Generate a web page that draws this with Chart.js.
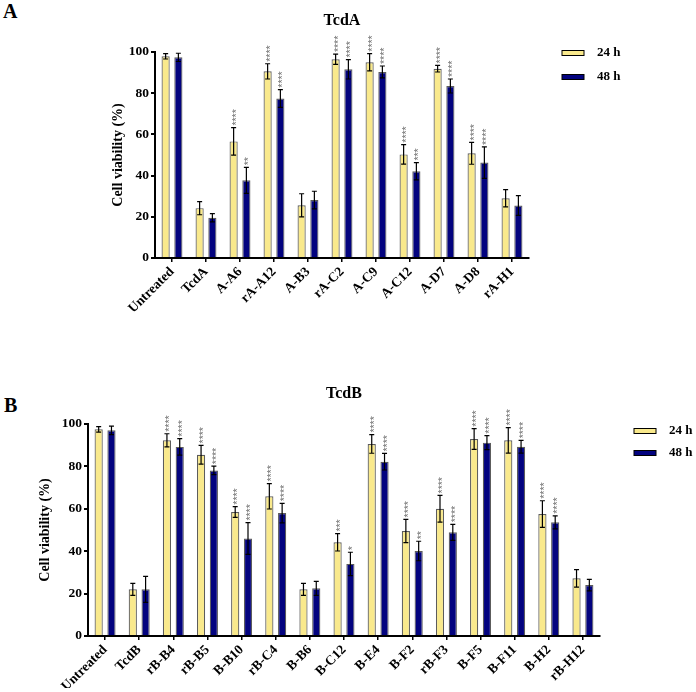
<!DOCTYPE html>
<html>
<head>
<meta charset="utf-8">
<script src="https://cdn.jsdelivr.net/npm/chart.js@4.4.0/dist/chart.umd.min.js"></script>
<style>
  body { margin: 0; background: #fff; }
  #page { position: relative; width: 696px; height: 692px; overflow: hidden; }
  .panel { position: absolute; font: bold 20px "Liberation Serif", serif; color: #000; }
  canvas { position: absolute; left: 0; }
</style>
</head>
<body>
<div id="page">
  <div class="panel" style="left:3px; top:0px;">A</div>
  <div class="panel" style="left:4px; top:394px;">B</div>
  <canvas id="chartA" width="696" height="380" style="top:0px;"></canvas>
  <canvas id="chartB" width="696" height="312" style="top:380px;"></canvas>
</div>
<script>
// 數據：TcdA
const labelsA = ["Untreated", "TcdA", "A-A6", "rA-A12", "A-B3", "rA-C2", "A-C9", "A-C12", "A-D7", "A-D8", "rA-H1"];
const a24 = [97.9, 24.2, 56.6, 90.6, 25.6, 96.5, 95.0, 50.3, 91.9, 50.8, 29.0];
const a48 = [97.4, 19.5, 37.7, 77.4, 28.1, 91.6, 90.3, 42.1, 83.5, 46.3, 25.5];
const a24err = [1.3, 3.2, 6.7, 3.7, 5.6, 2.5, 4.2, 4.7, 1.6, 5.3, 4.2];
const a48err = [2.0, 2.0, 6.3, 4.3, 4.3, 4.7, 2.9, 4.2, 3.4, 7.6, 4.8];
const a24sig = ["", "", "****", "****", "", "****", "****", "****", "****", "****", ""];
const a48sig = ["", "", "**", "****", "", "****", "****", "***", "****", "****", ""];

// 數據：TcdB
const labelsB = ["Untreated", "TcdB", "rB-B4", "rB-B5", "B-B10", "rB-C4", "B-B6", "B-C12", "B-E4", "B-F2", "rB-F3", "B-F5", "B-F11", "B-H2", "rB-H12"];
const b24 = [97.5, 22.0, 92.3, 85.5, 58.5, 65.9, 22.0, 44.2, 90.6, 49.5, 60.0, 92.9, 92.3, 57.5, 27.2];
const b48 = [97.0, 22.0, 89.2, 78.1, 46.0, 58.0, 22.5, 34.0, 82.2, 40.1, 48.9, 91.2, 89.3, 53.6, 24.0];
const b24err = [1.3, 2.8, 3.1, 4.4, 2.5, 6.0, 2.8, 4.1, 4.4, 5.5, 6.3, 4.9, 6.0, 6.3, 4.1];
const b48err = [2.0, 6.1, 3.9, 2.0, 7.5, 4.6, 3.3, 5.5, 3.9, 4.6, 3.8, 3.3, 3.0, 3.1, 2.7];
const b24sig = ["", "", "****", "****", "****", "****", "", "***", "****", "****", "****", "****", "****", "****", ""];
const b48sig = ["", "", "****", "****", "****", "****", "", "*", "****", "**", "****", "****", "****", "****", ""];

const yTicks = [0, 20, 40, 60, 80, 100];
const seriesNames = ["24 h", "48 h"];
const yellow = "#F9E98C";
const navy = "#03037F";
const serif = "'Liberation Serif', 'Times New Roman', serif";

// 誤差線、顯著性星號、標題與圖例
const decorPlugin = {
  id: 'decor',
  afterDatasetsDraw(chart, args, opts) {
    const ctx = chart.ctx;
    const y = chart.scales.y;
    const area = chart.chartArea;
    ctx.save();
    chart.data.datasets.forEach((ds, i) => {
      const meta = chart.getDatasetMeta(i);
      meta.data.forEach((bar, j) => {
        const v = ds.data[j], e = ds.errors[j];
        const top = y.getPixelForValue(v + e);
        const bot = y.getPixelForValue(v - e);
        ctx.strokeStyle = '#000';
        ctx.lineWidth = 1.2;
        ctx.beginPath();
        ctx.moveTo(bar.x, top); ctx.lineTo(bar.x, bot);
        ctx.moveTo(bar.x - 2.5, top); ctx.lineTo(bar.x + 2.5, top);
        ctx.moveTo(bar.x - 2.5, bot); ctx.lineTo(bar.x + 2.5, bot);
        ctx.stroke();
        const s = ds.sig[j];
        if (s) {
          ctx.save();
          ctx.translate(bar.x, top - 2);
          ctx.rotate(-Math.PI / 2);
          ctx.fillStyle = '#6f6f6f';
          ctx.font = "10.5px 'Liberation Sans', Arial, sans-serif";
          ctx.textAlign = 'left';
          ctx.textBaseline = 'alphabetic';
          ctx.fillText(s, 0, 6);
          ctx.restore();
        }
      });
    });

    // 標題
    ctx.fillStyle = '#000';
    ctx.font = "bold 16px " + serif;
    ctx.textAlign = 'center';
    ctx.textBaseline = 'middle';
    ctx.fillText(opts.title, (area.left + area.right) / 2, area.top - opts.titleGap);

    // 圖例
    chart.data.datasets.forEach((ds, i) => {
      const lx = area.right + opts.legendX;
      const ly = area.top + opts.legendY + i * opts.legendGap;
      ctx.fillStyle = ds.backgroundColor;
      ctx.fillRect(lx, ly - 2.5, 22, 5);
      ctx.strokeStyle = '#000';
      ctx.lineWidth = 1;
      ctx.strokeRect(lx, ly - 2.5, 22, 5);
      ctx.fillStyle = '#000';
      ctx.font = "bold 13px " + serif;
      ctx.textAlign = 'left';
      ctx.textBaseline = 'middle';
      ctx.fillText(ds.label, lx + 35, ly);
    });
    ctx.restore();
  }
};

function makeChart(id, labels, d24, d48, e24, e48, s24, s48, cfg) {
  const ctx = document.getElementById(id).getContext('2d');
  return new Chart(ctx, {
    type: 'bar',
    data: {
      labels: labels,
      datasets: [
        { label: seriesNames[0], data: d24, errors: e24, sig: s24, backgroundColor: yellow, borderColor: '#5c5c5c', borderWidth: 1.2, categoryPercentage: 0.75, barPercentage: 0.64 },
        { label: seriesNames[1], data: d48, errors: e48, sig: s48, backgroundColor: navy, borderColor: '#5c5c5c', borderWidth: 1.2, categoryPercentage: 0.75, barPercentage: 0.64 }
      ]
    },
    options: {
      responsive: false,
      animation: false,
      layout: { padding: cfg.padding },
      plugins: {
        legend: { display: false },
        tooltip: { enabled: false },
        decor: { title: cfg.title, titleGap: cfg.titleGap, legendX: cfg.legendX, legendY: cfg.legendY, legendGap: cfg.legendGap }
      },
      scales: {
        x: {
          afterFit: s => { s.height = cfg.xHeight; },
          grid: { offset: false, drawOnChartArea: false, drawTicks: true, tickLength: 4, lineWidth: 1.5, color: '#000' },
          border: { color: '#000', width: 2 },
          ticks: { color: '#000', font: { family: serif, size: 13.5, weight: 'bold' }, maxRotation: 45, minRotation: 45, padding: 2, autoSkip: false }
        },
        y: {
          min: 0, max: 100,
          afterFit: s => { s.width = cfg.yWidth; },
          afterBuildTicks: s => { s.ticks = yTicks.map(v => ({ value: v })); },
          grid: { drawOnChartArea: false, drawTicks: true, tickLength: 4, lineWidth: 2, color: '#000' },
          border: { color: '#000', width: 2 },
          title: { display: true, text: 'Cell viability (%)', color: '#000', font: { family: serif, size: 14, weight: 'bold' }, padding: { top: 0, bottom: 0 } },
          ticks: { color: '#000', font: { family: serif, size: 13.5, weight: 'bold' }, padding: 2 }
        }
      }
    },
    plugins: [decorPlugin]
  });
}

makeChart('chartA', labelsA, a24, a48, a24err, a48err, a24sig, a48sig, {
  title: 'TcdA', titleGap: 31,
  padding: { left: 110, right: 167, top: 52, bottom: 22 },
  yWidth: 45, xHeight: 100,
  legendX: 33, legendY: 1, legendGap: 24
});

makeChart('chartB', labelsB, b24, b48, b24err, b48err, b24sig, b48sig, {
  title: 'TcdB', titleGap: 30,
  padding: { left: 37, right: 96, top: 44, bottom: 4 },
  yWidth: 51, xHeight: 52,
  legendX: 34, legendY: 7, legendGap: 22
});
</script>
</body>
</html>
